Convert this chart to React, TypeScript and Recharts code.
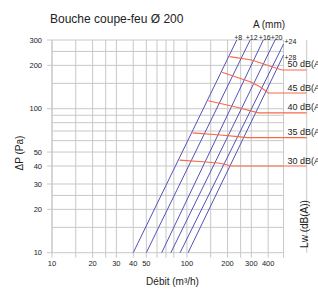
import React from 'react';
import { LineChart, Line, XAxis, YAxis, CartesianGrid, ReferenceLine, Customized } from 'recharts';

const BLUE = '#5252b8';
const RED = '#f66a48';
const GRID = '#c8c8c8';
const FONT = '"Liberation Sans", Arial, Helvetica, sans-serif';

// axis / grid values
const xGridValues = [10, 15, 20, 25, 30, 40, 50, 60, 70, 80, 100, 150, 200, 250, 300, 400, 520];
const xLabeledTicks = [10, 20, 30, 40, 50, 100, 200, 300, 400];
const yGridValues = [10, 15, 20, 25, 30, 40, 50, 60, 70, 80, 90, 100, 150, 200, 250, 300];
const yTicks = [10, 20, 30, 40, 50, 100, 200, 300];
const xDomain = [10, 772];
const yDomain = [10, 300];
const gridXMin = 10;
const gridXMax = 520;

// blue lines: A (mm) settings
const bluePlus8 = [{ q: 40, p: 10 }, { q: 234, p: 300 }];
const bluePlus12 = [{ q: 50, p: 10 }, { q: 294, p: 300 }];
const bluePlus16 = [{ q: 65, p: 10 }, { q: 368, p: 300 }];
const bluePlus20 = [{ q: 76, p: 10 }, { q: 450, p: 300 }];
const bluePlus24 = [{ q: 89, p: 10 }, { q: 520, p: 281 }];
const bluePlus28 = [{ q: 102, p: 10 }, { q: 520, p: 236 }];
const blueNames = ['+8', '+12', '+16', '+20', '+24', '+28'];

// red lines: Lw dB(A)
const red30 = [{ q: 88, p: 44 }, { q: 132, p: 42.8 }, { q: 176, p: 41.8 }, { q: 215, p: 40 }, { q: 770, p: 40 }];
const red35 = [{ q: 110, p: 68 }, { q: 176, p: 65.7 }, { q: 240, p: 63.9 }, { q: 278, p: 62.9 }, { q: 770, p: 62.9 }];
const red40 = [{ q: 144, p: 113.6 }, { q: 234, p: 102.3 }, { q: 338, p: 93.6 }, { q: 770, p: 93.6 }];
const red45 = [{ q: 182, p: 179 }, { q: 294, p: 154 }, { q: 348, p: 142 }, { q: 401, p: 128.5 }, { q: 770, p: 128.5 }];
const red50 = [{ q: 207, p: 229.7 }, { q: 302, p: 218 }, { q: 504, p: 185.7 }, { q: 770, p: 185.7 }];
const redNames = ['30 dB(A)', '35 dB(A)', '40 dB(A)', '45 dB(A)', '50 dB(A)'];

const blueSeries = [bluePlus8, bluePlus12, bluePlus16, bluePlus20, bluePlus24, bluePlus28];
const redSeries = [red30, red35, red40, red45, red50];

function blueDot(name: string, len: number, mode: number) {
  return (props: any) => {
    const { cx, cy, index } = props;
    if (index !== len - 1) return <g key={`b-${name}-${index}`} />;
    if (mode === 0) {
      return (
        <text key={`b-${name}-${index}`} x={cx + 1.5} y={cy} textAnchor="middle" fontSize={7} fill="#222" fontFamily={FONT}>
          {name}
        </text>
      );
    }
    return (
      <text key={`b-${name}-${index}`} x={cx + 1} y={cy + (mode === 2 ? 5 : 0)} textAnchor="start" fontSize={7} fill="#222" fontFamily={FONT}>
        {name}
      </text>
    );
  };
}

function redDot(name: string, len: number) {
  return (props: any) => {
    const { cx, cy, index } = props;
    if (index !== len - 1) return <g key={`r-${name}-${index}`} />;
    return (
      <text key={`r-${name}-${index}`} x={cx - 19} y={cy - 2.5} textAnchor="start" fontSize={9} fill="#222" fontFamily={FONT}>
        {name}
      </text>
    );
  };
}

const Texts = () => (
  <g fontFamily={FONT} fill="#222">
    <text x={50} y={23} fontSize={12}>Bouche coupe-feu Ø 200</text>
    <text x={269} y={27.5} fontSize={10} textAnchor="middle">A (mm)</text>
    <text transform="translate(19,153) rotate(-90)" fontSize={10} textAnchor="middle" dominantBaseline="central">ΔP (Pa)</text>
    <text transform="translate(304,224) rotate(-90)" fontSize={10} textAnchor="middle" dominantBaseline="central">Lw (dB(A))</text>
    <text x={172.5} y={285} fontSize={10} textAnchor="middle">Débit (m³/h)</text>
  </g>
);

export default function App() {
  return (
    <div style={{ position: 'absolute', left: 0, top: 0, width: 318, height: 290, background: '#fff' }}>
      <LineChart width={318} height={290} margin={{ top: 40, right: 11.3, bottom: 7.3, left: 0 }}>
        <CartesianGrid horizontal={false} stroke={GRID} strokeDasharray="" />
        <XAxis
          dataKey="q"
          type="number"
          scale="log"
          domain={xDomain}
          ticks={xGridValues}
          interval={0}
          height={30}
          axisLine={false}
          tickSize={5}
          tickMargin={3}
          tickLine={{ stroke: GRID }}
          tick={{ fontSize: 7.5, fill: '#222', fontFamily: FONT }}
          tickFormatter={(v: number) => (xLabeledTicks.includes(v) ? String(v) : '')}
        />
        <YAxis
          dataKey="p"
          type="number"
          scale="log"
          domain={yDomain}
          ticks={yTicks}
          interval={0}
          width={52}
          axisLine={{ stroke: GRID }}
          tickSize={5}
          tickMargin={5}
          tickLine={{ stroke: GRID }}
          tick={{ fontSize: 7.5, fill: '#222', fontFamily: FONT }}
        />
        {yGridValues.map((v) => (
          <ReferenceLine
            key={`h-${v}`}
            segment={[{ x: gridXMin, y: v }, { x: gridXMax, y: v }]}
            stroke={GRID}
            ifOverflow="visible"
          />
        ))}
        {blueSeries.map((d, i) => (
          <Line
            key={`blue-${i}`}
            data={d}
            dataKey="p"
            type="linear"
            stroke={BLUE}
            strokeWidth={1}
            dot={blueDot(blueNames[i], d.length, i < 4 ? 0 : i === 4 ? 1 : 2)}
            activeDot={false}
            isAnimationActive={false}
          />
        ))}
        {redSeries.map((d, i) => (
          <Line
            key={`red-${i}`}
            data={d}
            dataKey="p"
            type="linear"
            stroke={RED}
            strokeWidth={1.2}
            dot={redDot(redNames[i], d.length)}
            activeDot={false}
            isAnimationActive={false}
          />
        ))}
        <Customized component={Texts} />
      </LineChart>
    </div>
  );
}
